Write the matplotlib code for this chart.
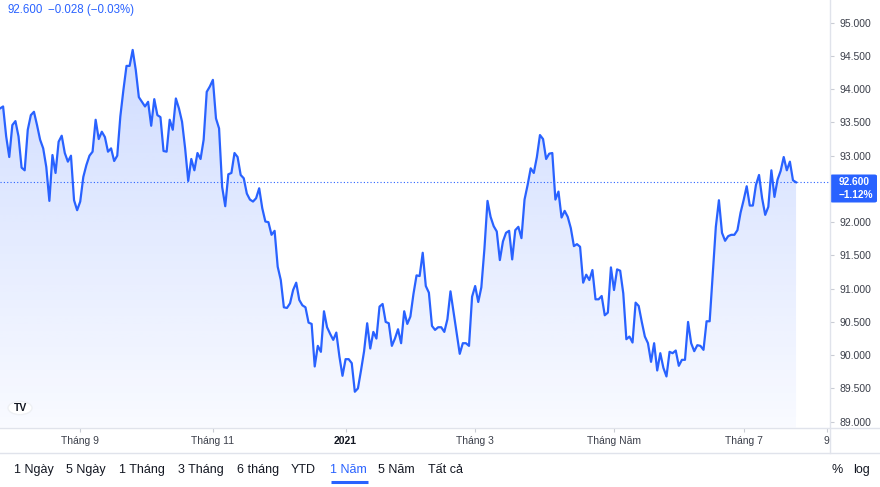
import matplotlib
matplotlib.use("Agg")
import matplotlib.pyplot as plt
import numpy as np
from matplotlib.patches import Polygon, FancyBboxPatch, Circle
from matplotlib.lines import Line2D

plt.rcParams['font.family'] = ['Liberation Sans', 'DejaVu Sans']

# ---------------- data ----------------
closes = [
    93.71, 93.74, 93.29, 92.98, 93.46, 93.52, 93.29, 92.82, 92.78, 93.39,
    93.61, 93.66, 93.46, 93.24, 93.11, 92.83, 92.32, 93.01, 92.74, 93.21,
    93.30, 93.04, 92.91, 93.00, 92.33, 92.18, 92.31, 92.68, 92.86, 93.00,
    93.06, 93.54, 93.25, 93.36, 93.28, 93.06, 93.11, 92.92, 93.00, 93.59,
    93.99, 94.35, 94.35, 94.59, 94.29, 93.88, 93.81, 93.74, 93.81, 93.45,
    93.85, 93.61, 93.58, 93.07, 93.06, 93.54, 93.39, 93.86, 93.71, 93.51,
    93.11, 92.62, 92.95, 92.78, 93.04, 92.95, 93.24, 93.96, 94.04, 94.14,
    93.56, 93.41, 92.53, 92.24, 92.72, 92.74, 93.04, 92.98, 92.71, 92.66,
    92.43, 92.34, 92.31, 92.36, 92.51, 92.21, 92.01, 92.00, 91.81, 91.87,
    91.33, 91.13, 90.72, 90.71, 90.78, 90.98, 91.09, 90.83, 90.75, 90.72,
    90.49, 90.47, 89.83, 90.14, 90.05, 90.66, 90.42, 90.32, 90.23, 90.34,
    89.98, 89.69, 89.94, 89.94, 89.88, 89.45, 89.50, 89.77, 90.06, 90.48,
    90.10, 90.35, 90.25, 90.73, 90.77, 90.50, 90.48, 90.14, 90.25, 90.39,
    90.18, 90.66, 90.47, 90.58, 90.92, 91.20, 91.19, 91.54, 91.04, 90.94,
    90.44, 90.38, 90.42, 90.42, 90.35, 90.54, 90.96, 90.65, 90.35, 90.02,
    90.18, 90.18, 90.14, 90.88, 91.04, 90.80, 91.02, 91.60, 92.32, 92.08,
    91.94, 91.86, 91.43, 91.71, 91.84, 91.87, 91.44, 91.88, 91.93, 91.76,
    92.34, 92.56, 92.81, 92.74, 92.98, 93.31, 93.25, 92.95, 93.03, 93.04,
    92.34, 92.46, 92.07, 92.17, 92.08, 91.91, 91.64, 91.67, 91.63, 91.09,
    91.21, 91.13, 91.28, 90.84, 90.84, 90.89, 90.60, 90.64, 91.32, 90.98,
    91.29, 91.27, 90.93, 90.24, 90.28, 90.19, 90.79, 90.74, 90.50, 90.28,
    90.18, 89.90, 90.18, 89.77, 90.03, 89.81, 89.68, 90.05, 90.03, 90.07,
    89.84, 89.93, 89.93, 90.50, 90.18, 90.06, 90.15, 90.14, 90.08, 90.51,
    90.51, 91.23, 91.93, 92.33, 91.84, 91.72, 91.79, 91.81, 91.81, 91.88,
    92.14, 92.33, 92.54, 92.25, 92.25, 92.56, 92.71, 92.36, 92.11, 92.23,
    92.78, 92.38, 92.64, 92.77, 92.98, 92.78, 92.91, 92.63, 92.60,
]
last_price = 92.600
change_abs = "\u22120.028"
change_pct = "(\u22120.03%)"
period_change = "\u22121.12%"

month_tick_bars = [26, 69, 112, 154, 199, 241, 268]
month_labels = ["Tháng 9", "Tháng 11", "2021", "Tháng 3", "Tháng Năm", "Tháng 7", "9"]

# 92.500 is hidden behind the last-price label in the reference
price_ticks = [89.0, 89.5, 90.0, 90.5, 91.0, 91.5, 92.0, 93.0, 93.5, 94.0, 94.5, 95.0]

range_buttons = ["1 Ngày", "5 Ngày", "1 Tháng", "3 Tháng", "6 tháng", "YTD", "1 Năm", "5 Năm", "Tất cả"]
active_button = "1 Năm"

# ---------------- layout / style ----------------
W, H = 880, 487
BLUE = "#2962ff"
GRID = "#e0e3eb"
TXT = "#131722"
AX_TXT = "#3b3f4a"

def fx(p):
    return p / W

def fy(p):
    return 1 - p / H

fig = plt.figure(figsize=(W / 100, H / 100), dpi=100)
fig.patch.set_facecolor("white")

plot_right = 830
plot_bottom = 427.5
ax = fig.add_axes([0, fy(plot_bottom), fx(plot_right), plot_bottom / H])
ax.set_facecolor("white")

x = np.arange(len(closes))
y = np.array(closes)

ytop = 95.341
px_per_unit = 66.5
ymin = ytop - plot_bottom / px_per_unit

# gradient fill under the line
rgb = matplotlib.colors.to_rgb(BLUE)
n = 256
grad = np.zeros((n, 1, 4))
grad[..., 0] = rgb[0]
grad[..., 1] = rgb[1]
grad[..., 2] = rgb[2]
grad[:, 0, 3] = np.linspace(0.22, 0.03, n)
img = ax.imshow(grad, extent=[x[0], x[-1], ymin, y.max()], aspect="auto",
                origin="upper", interpolation="bilinear", zorder=1)
poly = Polygon([(x[0], ymin)] + list(zip(x, y)) + [(x[-1], ymin)], closed=True,
               fc="none", ec="none")
ax.add_patch(poly)
img.set_clip_path(poly)

ax.plot(x, y, color=BLUE, lw=1.6, solid_joinstyle="round", zorder=3)
ax.axhline(last_price, color=BLUE, lw=0.8, linestyle=(0, (1, 2)), zorder=2)

ax.set_xlim(0, 269)
ax.set_ylim(ymin, ytop)

for s in ax.spines.values():
    s.set_visible(False)

ax.yaxis.tick_right()
ax.set_yticks(price_ticks)
ax.set_yticklabels([f"{v:.3f}" for v in price_ticks])
ax.tick_params(axis="y", length=3, color="#c9ccd4", labelcolor=AX_TXT,
               labelsize=7.5, pad=3.5)

ax.set_xticks(month_tick_bars)
ax.set_xticklabels(month_labels)
ax.tick_params(axis="x", length=3, color="#c9ccd4", labelcolor=AX_TXT,
               labelsize=7.5, pad=3)
for lab in ax.get_xticklabels():
    if lab.get_text() == "2021":
        lab.set_fontweight("bold")
        lab.set_color(TXT)

# separator lines
fig.add_artist(Line2D([fx(plot_right), fx(plot_right)], [fy(0), fy(453)],
                      transform=fig.transFigure, color=GRID, lw=1))
fig.add_artist(Line2D([0, 1], [fy(428), fy(428)], transform=fig.transFigure,
                      color=GRID, lw=1))
fig.add_artist(Line2D([0, 1], [fy(453), fy(453)], transform=fig.transFigure,
                      color=GRID, lw=1))

# last price label on the axis
fig.add_artist(FancyBboxPatch((fx(plot_right), fy(202.5)), fx(47), 28 / H,
                              boxstyle="round,pad=0,rounding_size=0.003",
                              transform=fig.transFigure, fc=BLUE, ec="none"))
fig.text(fx(839), fy(182), f"{last_price:.3f}", color="white", fontsize=7.3,
         fontweight="bold", va="center", ha="left")
fig.text(fx(839), fy(195), period_change, color="white", fontsize=7.3,
         fontweight="bold", va="center", ha="left")

# header
fig.text(fx(7), fy(10), f"{last_price:.3f}", color=BLUE, fontsize=8.3, va="center")
fig.text(fx(48), fy(10), f"{change_abs} {change_pct}", color=BLUE, fontsize=8.3, va="center")

# logo
fig.add_artist(Circle((fx(20), fy(408)), 12 / W, transform=fig.transFigure,
                      fc="white", ec="#eef0f4", lw=1, zorder=5))
fig.text(fx(20), fy(408), "TV", color=TXT, fontsize=7.5, fontweight="bold",
         ha="center", va="center", zorder=6)

# range buttons
button_x = [14, 66, 119, 178, 237, 291, 330, 378, 428]
for lbl, bx in zip(range_buttons, button_x):
    col = BLUE if lbl == active_button else TXT
    fig.text(fx(bx), fy(470), lbl, color=col, fontsize=9, va="center", ha="left")
fig.add_artist(Line2D([fx(331), fx(368)], [fy(481.5), fy(481.5)],
                      transform=fig.transFigure, color=BLUE, lw=2.2,
                      solid_capstyle="butt"))
fig.text(fx(831), fy(470), "%", color=TXT, fontsize=9, va="center", ha="left")
fig.text(fx(853), fy(470), "log", color=TXT, fontsize=9, va="center", ha="left")

fig.savefig("out.png", dpi=100, facecolor="white")
